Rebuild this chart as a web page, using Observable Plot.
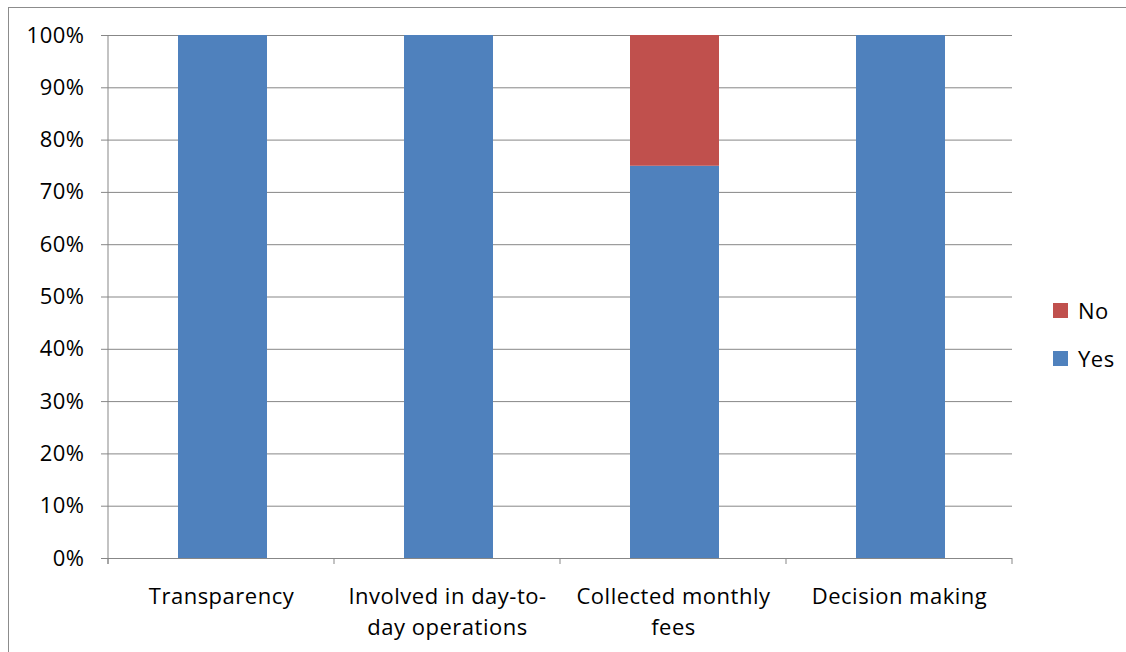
<!DOCTYPE html>
<html>
<head>
<meta charset="utf-8">
<script src="https://cdn.jsdelivr.net/npm/d3@7"></script>
<script src="https://cdn.jsdelivr.net/npm/@observablehq/plot@0.6"></script>
<style>
  html, body { margin: 0; padding: 0; background: #fff; }
  #wrap { position: relative; width: 1126px; height: 652px; overflow: hidden; font-family: "Open Sans", sans-serif; }
  #frame { position: absolute; left: 8px; top: 7px; width: 1130px; height: 660px; border: 1px solid #8c8c8c; box-sizing: border-box; pointer-events: none; }
  #chart { position: absolute; left: 0; top: 0; }
  #chart svg text { letter-spacing: 0.5px; }
  #legend { position: absolute; left: 1053px; top: 286px; font-size: 22px; letter-spacing: 0.5px; color: #000; }
  .item { display: flex; align-items: center; height: 48px; }
  .sw { width: 15px; height: 15px; margin-right: 10px; }
</style>
</head>
<body>
<div id="wrap">
  <div id="chart"></div>
  <div id="frame"></div>
  <div id="legend"></div>
</div>
<script>
const categories = ["Transparency", "Involved in day-to-day operations", "Collected monthly fees", "Decision making"];
const tickLabels = ["Transparency", "Involved in day-to-\nday operations", "Collected monthly\nfees", "Decision making"];
const series = ["Yes", "No"];
const yesValues = [1.00, 1.00, 0.75, 1.00];
const noValues = [0.00, 0.00, 0.25, 0.00];
const yTicks = [0, 0.1, 0.2, 0.3, 0.4, 0.5, 0.6, 0.7, 0.8, 0.9, 1.0];
const colors = ["#4F81BD", "#C0504D"];

const data = [];
categories.forEach((c, i) => {
  data.push({category: c, series: "Yes", value: yesValues[i]});
  data.push({category: c, series: "No", value: noValues[i]});
});

const gray = "#878787";
const chart = Plot.plot({
  width: 1126,
  height: 652,
  marginLeft: 108,
  marginRight: 114,
  marginTop: 35,
  marginBottom: 94,
  style: {fontFamily: "Open Sans, sans-serif", fontSize: "22px", color: "#000", background: "transparent"},
  x: {domain: categories, padding: 0, label: null},
  y: {domain: [0, 1], label: null},
  color: {domain: series, range: colors},
  marks: [
    Plot.gridY(yTicks, {stroke: gray, strokeOpacity: 1, strokeWidth: 1}),
    Plot.barY(data, Plot.stackY({x: "category", y: "value", fill: "series", order: series, insetLeft: 70, insetRight: 67})),
    Plot.axisY(yTicks, {tickFormat: d3.format(".0%"), tickSize: 7, tickPadding: 17, stroke: gray, fill: "#000", label: null}),
    Plot.axisX({tickSize: 0, tickPadding: 23, tickFormat: (d) => tickLabels[categories.indexOf(d)], lineHeight: 1.42, fill: "#000", label: null}),
    Plot.ruleY([0], {stroke: gray})
  ]
});
document.getElementById("chart").appendChild(chart);

// Excel-style category boundary ticks and left axis line, from the library's x scale
const xs = chart.scale("x");
const ys = chart.scale("y");
const bounds = categories.map(c => xs.apply(c)).concat([xs.apply(categories[categories.length - 1]) + xs.bandwidth]);
const svg = d3.select(chart);
const y0 = ys.apply(0), y1 = ys.apply(1);
svg.selectAll("line.bnd").data(bounds).join("line")
  .attr("class", "bnd")
  .attr("x1", d => d).attr("x2", d => d)
  .attr("y1", y0).attr("y2", y0 + 6)
  .attr("stroke", gray);
svg.append("line")
  .attr("x1", bounds[0]).attr("x2", bounds[0])
  .attr("y1", y1).attr("y2", y0 + 6)
  .attr("stroke", gray);

const legend = document.getElementById("legend");
["No", "Yes"].forEach(s => {
  const it = document.createElement("div");
  it.className = "item";
  const sw = document.createElement("div");
  sw.className = "sw";
  sw.style.background = colors[series.indexOf(s)];
  const t = document.createElement("span");
  t.textContent = s;
  it.appendChild(sw); it.appendChild(t);
  legend.appendChild(it);
});
</script>
</body>
</html>
